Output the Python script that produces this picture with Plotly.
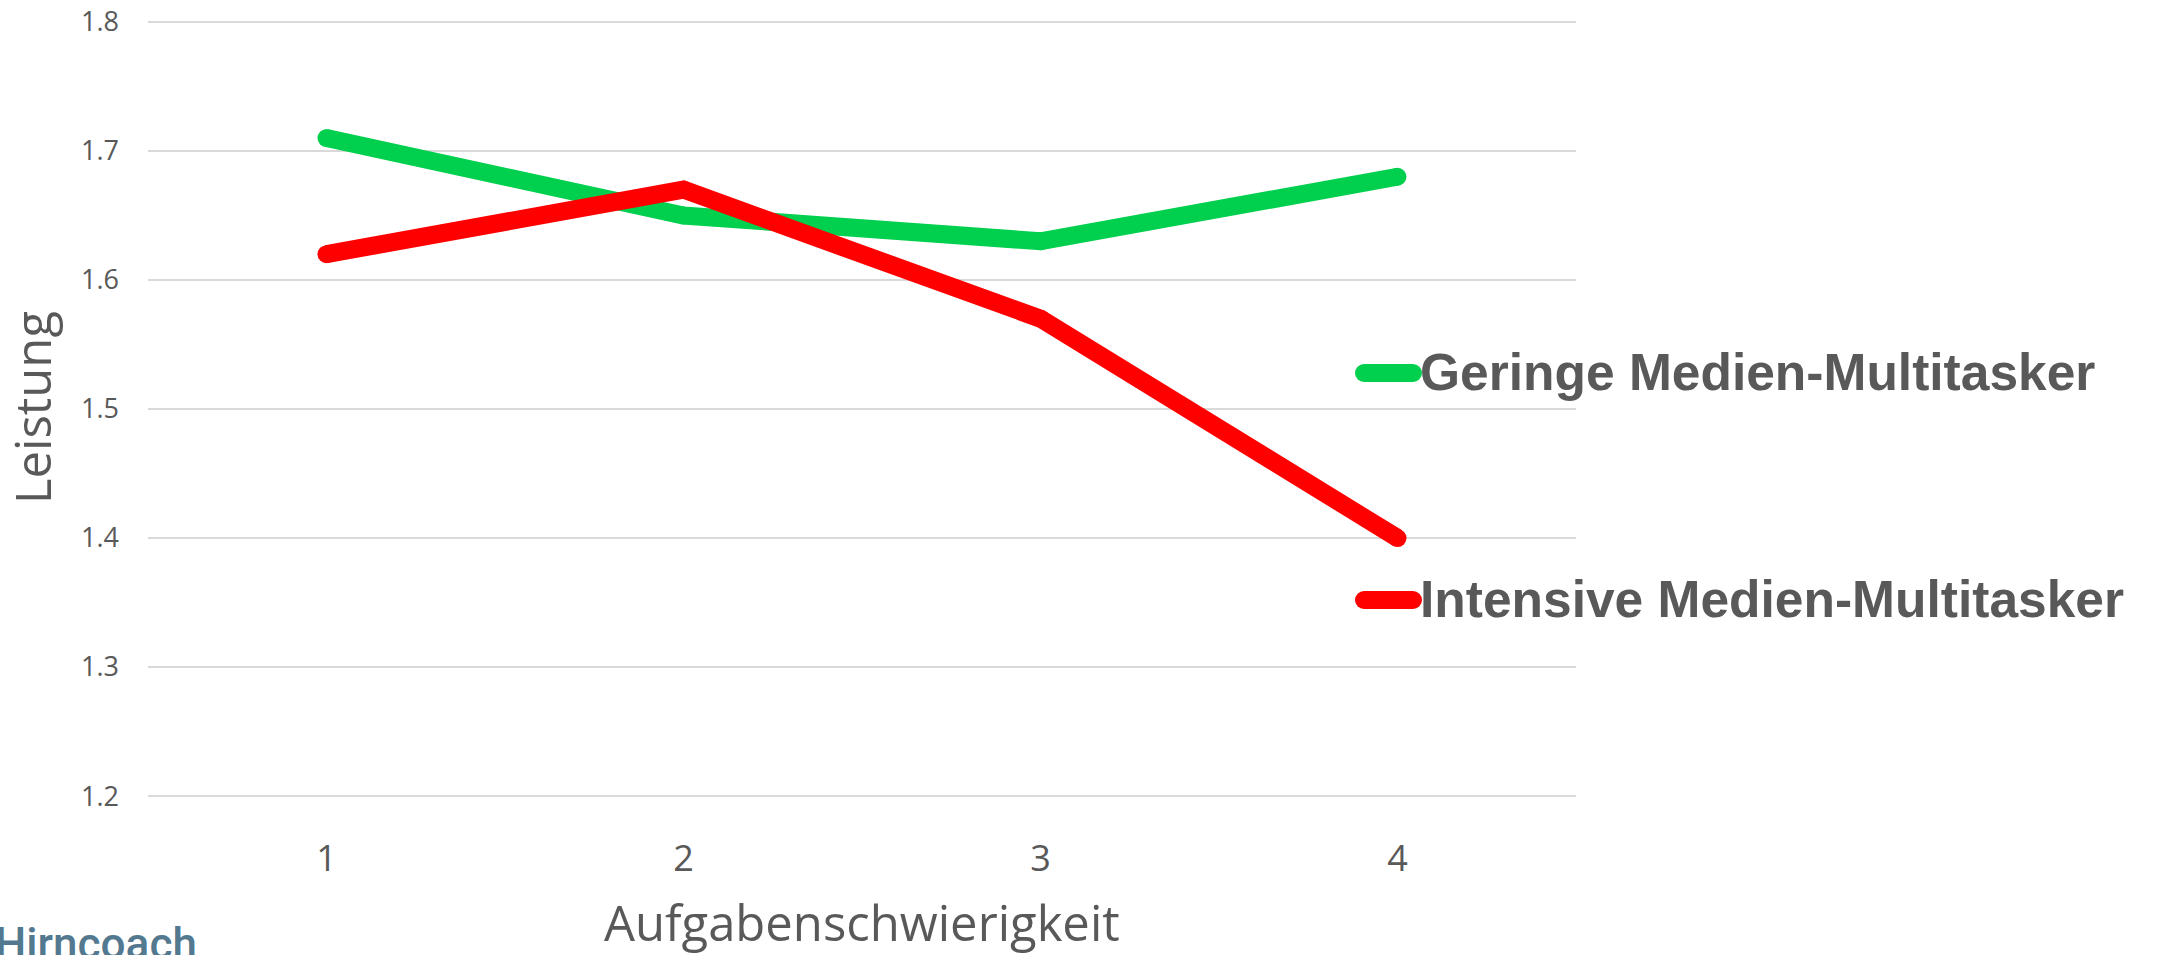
import plotly.graph_objects as go

categories = ["1", "2", "3", "4"]
geringe = [1.71, 1.65, 1.63, 1.68]
intensive = [1.62, 1.67, 1.57, 1.40]
series_names = ["Geringe Medien-Multitasker", "Intensive Medien-Multitasker"]
y_ticks = [1.2, 1.3, 1.4, 1.5, 1.6, 1.7, 1.8]

GREEN = "#00D04D"
RED = "#FF0000"
TXT = "#595959"

W, H = 2162, 955
L, R, T, B = 148, 586, 20, 157
PW, PH = W - L - R, H - T - B

def px(x):
    return (x - L) / PW

def py(y):
    return (H - B - y) / PH

fig = go.Figure()
for name, vals, col in [(series_names[0], geringe, GREEN), (series_names[1], intensive, RED)]:
    fig.add_trace(go.Scatter(x=categories, y=vals, name=name, mode="lines+markers",
                             line=dict(color=col, width=18),
                             marker=dict(color=col, size=18, line=dict(width=0)),
                             showlegend=False, cliponaxis=False))

shapes = []
annotations = []
for name, col, yc in [(series_names[0], GREEN, 373), (series_names[1], RED, 600)]:
    shapes.append(dict(type="line", xref="paper", yref="paper", x0=px(1364), x1=px(1413),
                       y0=py(yc), y1=py(yc), line=dict(color=col, width=18)))
    for xc in (1364, 1413):
        shapes.append(dict(type="circle", xref="paper", yref="paper", xsizemode="pixel",
                           ysizemode="pixel", xanchor=px(xc), yanchor=py(yc),
                           x0=-9, x1=9, y0=-9, y1=9, fillcolor=col, line=dict(width=0)))
    annotations.append(dict(text="<b>" + name + "</b>", xref="paper", yref="paper",
                            x=px(1418), y=py(yc - 1), xanchor="left", yanchor="middle",
                            showarrow=False, font=dict(size=51.5, color=TXT, family="Liberation Sans")))

annotations.append(dict(text="Leistung", xref="paper", yref="paper", x=px(32), y=py(408),
                        xanchor="center", yanchor="middle", textangle=-90, showarrow=False,
                        font=dict(size=49, color=TXT, family="Open Sans")))
annotations.append(dict(text="Aufgabenschwierigkeit", xref="paper", yref="paper", x=px(862), y=py(922),
                        xanchor="center", yanchor="middle", showarrow=False,
                        font=dict(size=49, color=TXT, family="Open Sans")))
annotations.append(dict(text="Hirncoach", xref="paper", yref="paper", x=px(-7), y=py(944),
                        xanchor="left", yanchor="middle", showarrow=False,
                        font=dict(size=44, color="#52798F", family="Roboto Medium, Roboto")))

fig.update_layout(
    width=W, height=H,
    margin=dict(l=L, r=R, t=T, b=B, autoexpand=False),
    paper_bgcolor="white", plot_bgcolor="white",
    shapes=shapes, annotations=annotations,
    font=dict(family="Open Sans", color=TXT),
)
fig.update_xaxes(type="category", range=[-0.5, 3.5], showgrid=False, zeroline=False,
                 showline=False, ticks="", tickfont=dict(size=36, color=TXT),
                 ticklabelstandoff=36, automargin=False)
fig.update_yaxes(range=[1.1985, 1.8015], tickvals=y_ticks, ticktext=[f"{v:.1f}" for v in y_ticks],
                 showgrid=True, gridcolor="#D9D9D9", gridwidth=2, zeroline=False,
                 showline=False, ticks="", tickfont=dict(size=27, color=TXT),
                 ticklabelstandoff=28, automargin=False)

fig.write_html("out.html", config={"displayModeBar": False},
               post_script="document.body.style.margin='0';document.body.style.overflow='hidden';")
